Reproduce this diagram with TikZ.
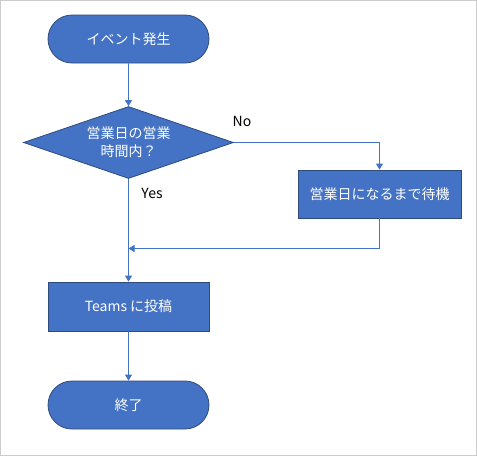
\documentclass[tikz,border=0pt]{standalone}
\usepackage{fontspec}
\setmainfont{Noto Sans CJK JP}
\usetikzlibrary{shapes.geometric,shapes.misc,arrows.meta}
\definecolor{fillb}{HTML}{4472C4}
\definecolor{edgeb}{HTML}{2F4B7C}
\definecolor{linkb}{HTML}{4472C4}
\begin{document}
\begin{tikzpicture}[x=1pt,y=-1pt,
  base/.style={draw=edgeb,fill=fillb,line width=0.8pt,text=white,font=\fontsize{14}{18}\selectfont,inner sep=0pt,align=center},
  term/.style={base,rounded rectangle,minimum width=161pt,minimum height=48pt},
  procbox/.style={base,rectangle,minimum width=161pt,minimum height=48pt},
  decbox/.style={base,diamond,aspect=2.9,minimum width=210pt,minimum height=72pt},
  conn/.style={draw=linkb,line width=0.8pt},
  arr/.style={conn,-{Triangle[width=7pt,length=6pt]}},
  lbl/.style={font=\fontsize{14}{16}\selectfont,text=black}]
\useasboundingbox (0,0) rectangle (477,456);
\draw[draw=black!20,line width=1pt] (0.5,0.5) rectangle (476.5,455.5);
\node[term] (start) at (128.5,39) {イベント発生};
\node[decbox] (dec) at (128.5,142.5) {営業日の営業\\時間内？};
\node[procbox,minimum width=163pt] (wait) at (379.5,194) {営業日になるまで待機};
\node[procbox,minimum height=49pt] (teams) at (128.5,306.5) {Teams に投稿};
\node[term] (end) at (128.5,405) {終了};
\coordinate (m) at (128.5,248.5);
\draw[arr] (start) -- (dec);
\draw[arr] (dec.east) -| (wait.north);
\draw[arr] (wait.south) |- (m);
\draw[arr] (dec.south) -- (teams.north);
\draw[arr] (teams) -- (end);
\node[lbl] (no) at (242,121) {No};
\node[lbl] (yes) at (152,193) {Yes};
\end{tikzpicture}
\end{document}
